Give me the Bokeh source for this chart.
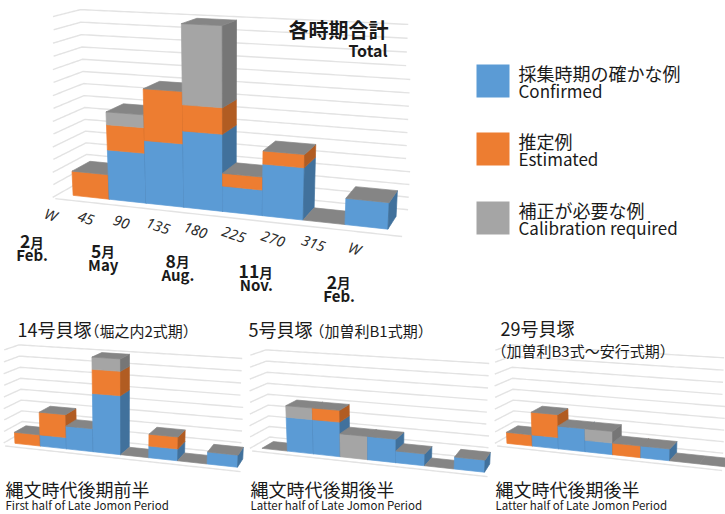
import numpy as np
from bokeh.plotting import figure
from bokeh.models import Range1d
from bokeh.core.properties import value
from bokeh.embed import file_html
from bokeh.resources import INLINE

W, H = 725, 514

# ---- sector edges (45 degree sectors from W round to W) and the months under them
sector_edges = ["W", "45", "90", "135", "180", "225", "270", "315", "W"]
month_edge_idx = [0, 2, 4, 6, 8]
month_num = ["2", "5", "8", "11", "2"]
month_en = ["Feb.", "May", "Aug.", "Nov.", "Feb."]

series_jp = ["採集時期の確かな例", "推定例", "補正が必要な例"]
series_en = ["Confirmed", "Estimated", "Calibration required"]

# ---- counts per sector, all periods combined
total_confirmed = [0, 4, 5, 6, 2, 4, 0, 2]
total_estimated = [2, 2, 4, 2, 1, 1, 0, 0]
total_calib = [0, 1, 0, 6, 0, 0, 0, 0]

# ---- shell mound No.14 (Horinouchi 2)
m14_confirmed = [0, 1, 2, 5, 0, 1, 0, 1]
m14_estimated = [1, 2, 0, 2, 0, 1, 0, 0]
m14_calib = [0, 0, 0, 1, 0, 0, 0, 0]

# ---- shell mound No.5 (Kasori B1)
m5_confirmed = [0, 3, 3, 0, 2, 1, 0, 1]
m5_estimated = [0, 0, 1, 0, 0, 0, 0, 0]
m5_calib = [0, 1, 0, 2, 0, 0, 0, 0]

# ---- shell mound No.29 (Kasori B3 - Angyo)
m29_confirmed = [0, 1, 2, 1, 0, 1, 0, 0]
m29_estimated = [1, 2, 0, 0, 1, 0, 0, 0]
m29_calib = [0, 0, 0, 1, 0, 0, 0, 0]

FRONT = ["#5b9bd5", "#ed7d31", "#a5a5a5"]
SIDE = ["#41719c", "#b15c22", "#767676"]
TOP = "#858585"
GRID = "#e3e3e3"
JP = "Noto Sans CJK JP"
INK = "#1a1a1a"


class Camera:
    """Perspective view of a 3-D column chart: X = sector, Y = count, Z = depth."""

    def __init__(self, cx, cy, focal, unit, dist=25.6, yaw=19.3, pitch=17.5):
        self.cx, self.cy, self.f, self.unit, self.dist = cx, cy, focal, unit, dist
        t, p = np.radians(yaw), np.radians(pitch)
        self.ct, self.st, self.cp, self.sp = np.cos(t), np.sin(t), np.cos(p), np.sin(p)

    def __call__(self, X, Y, Z):
        px = np.asarray(X, float) - 4.0
        py = np.asarray(Y, float) * self.unit
        pz = np.asarray(Z, float) - 0.5
        x1 = px * self.ct + pz * self.st
        z1 = -px * self.st + pz * self.ct
        yc = py * self.cp + z1 * self.sp
        dep = self.dist - py * self.sp + z1 * self.cp
        return self.cx + self.f * x1 / dep, self.cy - self.f * yc / dep


def wall_lines(cam, gmax, zfront, zback, xlo, xhi, clip):
    xs, ys = [], []
    for g in range(gmax + 1):
        zz = np.linspace(zfront, zback, 30)
        sx1, sy1 = cam(np.full_like(zz, xlo), np.full_like(zz, g), zz)
        xx = np.linspace(xlo, xhi, 80)
        sx2, sy2 = cam(xx, np.full_like(xx, g), np.full_like(xx, zback))
        sx = np.concatenate([sx1, sx2])
        sy = np.concatenate([sy1, sy2])
        keep = (sx >= clip[0]) & (sx <= clip[1])
        xs.append(list(sx[keep]))
        ys.append(list(sy[keep]))
    # front edge of the floor
    xx = np.linspace(xlo, xhi, 80)
    sx, sy = cam(xx, np.zeros_like(xx), np.full_like(xx, zfront))
    keep = (sx >= clip[0]) & (sx <= clip[1])
    xs.append(list(sx[keep]))
    ys.append(list(sy[keep]))
    return xs, ys


def column_faces(cam, stacks, depth):
    xs, ys, fills = [], [], []

    def face(pts, color):
        X, Y, Z = zip(*pts)
        sx, sy = cam(X, Y, Z)
        xs.append(list(sx))
        ys.append(list(sy))
        fills.append(color)

    for i in range(len(stacks[0])):
        x0, x1 = i, i + 1
        base = 0.0
        for s, vals in enumerate(stacks):
            v = vals[i]
            if v > 0:
                top = base + v
                face([(x0, base, 0), (x1, base, 0), (x1, top, 0), (x0, top, 0)], FRONT[s])
                face([(x1, base, 0), (x1, base, depth), (x1, top, depth), (x1, top, 0)], SIDE[s])
                base = top
        face([(x0, base, 0), (x1, base, 0), (x1, base, depth), (x0, base, depth)], TOP)
    return xs, ys, fills


p = figure(width=W, height=H, x_range=Range1d(0, W), y_range=Range1d(H, 0),
           output_backend="svg", toolbar_location=None, min_border=0,
           x_axis_location=None, y_axis_location=None)
p.grid.visible = False
p.outline_line_color = None
p.background_fill_color = "white"
p.border_fill_color = "white"

main_cam = Camera(229, 205, 1048, 0.3168)
panels = [
    dict(cam=main_cam, stacks=(total_confirmed, total_estimated, total_calib),
         depth=1.0, gmax=14, zback=1.6, clip=(52, 410)),
    dict(cam=Camera(125, 450, 741, 0.41), stacks=(m14_confirmed, m14_estimated, m14_calib),
         depth=0.9, gmax=8, zback=1.4, clip=(3, 243)),
    dict(cam=Camera(372, 455, 741, 0.41), stacks=(m5_confirmed, m5_estimated, m5_calib),
         depth=0.9, gmax=8, zback=1.4, clip=(249, 489)),
    dict(cam=Camera(617, 450, 741, 0.41), stacks=(m29_confirmed, m29_estimated, m29_calib),
         depth=0.9, gmax=8, zback=1.4, clip=(494, 725)),
]

for pn in panels:
    gx, gy = wall_lines(pn["cam"], pn["gmax"], -0.4, pn["zback"], -0.4, 8.4, pn["clip"])
    p.multi_line(gx, gy, line_color=GRID, line_width=1.4)

for pn in panels:
    fx, fy, fc = column_faces(pn["cam"], pn["stacks"], pn["depth"])
    p.patches(fx, fy, fill_color=fc, line_color=fc, line_width=0.7)

# ---- sector labels along the front of the floor
ex, ey = main_cam(np.arange(9), np.zeros(9), np.zeros(9))
lab_x = ex - (22 + 0.035 * (ex - ex[0]))
lab_y = ey + 19
p.text(list(lab_x), list(lab_y), text=sector_edges, text_font=value("Noto Sans"),
       text_font_style="italic", text_font_size="14.5px", text_color="#2b2b2b",
       text_align="center", text_baseline="middle", angle=-0.33)

# ---- month labels
mi = np.array(month_edge_idx)
mx = ex[mi] - (41 + 0.025 * (ex[mi] - ex[0]))
my = ey[mi] + 41 + 0.2 * (ey[mi] - ey[0])
split = [(0.55 * 17.5 * len(n) - 13.5) / 2 for n in month_num]
p.text([x + s for x, s in zip(mx, split)], list(my + 5.5), text=month_num,
       text_font=value(JP), text_font_style="bold", text_font_size="17.5px",
       text_color=INK, text_align="right", text_baseline="alphabetic")
p.text([x + s for x, s in zip(mx, split)], list(my + 5.5), text=["月"] * len(mi),
       text_font=value(JP), text_font_style="bold", text_font_size="13.5px",
       text_color=INK, text_align="left", text_baseline="alphabetic")
p.text(list(mx), list(my + 18.5), text=month_en, text_font=value(JP),
       text_font_style="bold", text_font_size="15px", text_color=INK,
       text_align="center", text_baseline="middle")

# ---- main title
p.text([388], [28.5], text=["各時期合計"], text_font=value(JP), text_font_style="bold",
       text_font_size="20px", text_color=INK, text_align="right", text_baseline="middle")
p.text([387], [49], text=["Total"], text_font=value(JP), text_font_style="bold",
       text_font_size="16px", text_color=INK, text_align="right", text_baseline="middle")

# ---- legend
leg_top = [64, 132, 201]
p.quad(left=[476] * 3, right=[509] * 3, top=leg_top, bottom=[t + 33 for t in leg_top],
       fill_color=FRONT, line_color=None)
p.text([518] * 3, [t + 8.5 for t in leg_top], text=series_jp, text_font=value(JP),
       text_font_size="18px", text_color=INK, text_align="left", text_baseline="middle")
p.text([518] * 3, [t + 26 for t in leg_top], text=series_en, text_font=value(JP),
       text_font_size="17px", text_color=INK, text_align="left", text_baseline="middle")

# ---- panel titles
p.text([17, 248, 500], [328.5, 328.5, 327], text=["14号貝塚", "5号貝塚", "29号貝塚"],
       text_font=value(JP), text_font_size="18px", text_color=INK,
       text_align="left", text_baseline="middle")
p.text([84, 309, 491], [329.5, 329.5, 349.5],
       text=["（堀之内2式期）", "（加曽利B1式期）", "（加曽利B3式～安行式期）"],
       text_font=value(JP), text_font_size="15px", text_color=INK,
       text_align="left", text_baseline="middle")

p.text([5, 250, 495], [488.5] * 3, text=["縄文時代後期前半", "縄文時代後期後半", "縄文時代後期後半"],
       text_font=value(JP), text_font_size="18px", text_color=INK,
       text_align="left", text_baseline="middle")
p.text([5, 250, 495], [504] * 3,
       text=["First half of Late Jomon Period", "Latter half of Late Jomon Period",
             "Latter half of Late Jomon Period"],
       text_font=value(JP), text_font_size="11.5px", text_color=INK,
       text_align="left", text_baseline="middle")

open("out.html", "w").write(file_html(p, INLINE))
